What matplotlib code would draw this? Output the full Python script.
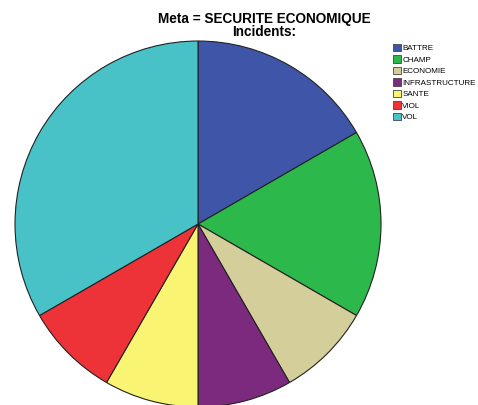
import matplotlib
matplotlib.use("Agg")
import matplotlib.pyplot as plt
from matplotlib.patches import Patch

categories = ["BATTRE", "CHAMP", "ECONOMIE", "INFRASTRUCTURE", "SANTE", "VIOL", "VOL"]
counts = [2, 2, 1, 1, 1, 1, 4]
colors = ["#3F56A8", "#2DB84B", "#D4CF9A", "#7B2A7E", "#F9F472", "#EE3338", "#48C2C6"]

plt.rcParams["font.family"] = ["Liberation Sans", "DejaVu Sans"]

fig = plt.figure(figsize=(4.78, 4.05), dpi=100)
ax = fig.add_axes([0.0314, -0.005, 0.7657, 0.9037])
ax.pie(counts, colors=colors, startangle=90, counterclock=False, radius=1.0,
       wedgeprops=dict(edgecolor="#222222", linewidth=0.8))
ax.set_xlim(-1, 1)
ax.set_ylim(-1, 1)
ax.set_aspect("equal")
ax.axis("off")

fig.text(0.553, 0.952, "Meta = SECURITE ECONOMIQUE", ha="center", va="center",
         fontsize=9.8, fontweight="bold")
fig.text(0.553, 0.92, "Incidents:", ha="center", va="center",
         fontsize=9.8, fontweight="bold")

handles = [Patch(facecolor=c, edgecolor="#444444", linewidth=0.6) for c in colors]
fig.legend(handles, categories, loc="upper left", bbox_to_anchor=(0.815, 0.9),
           frameon=False, fontsize=5.8, handlelength=1.05, handleheight=1.05,
           handletextpad=0.15, labelspacing=0.38, borderaxespad=0)

fig.savefig("out.png", dpi=100)
